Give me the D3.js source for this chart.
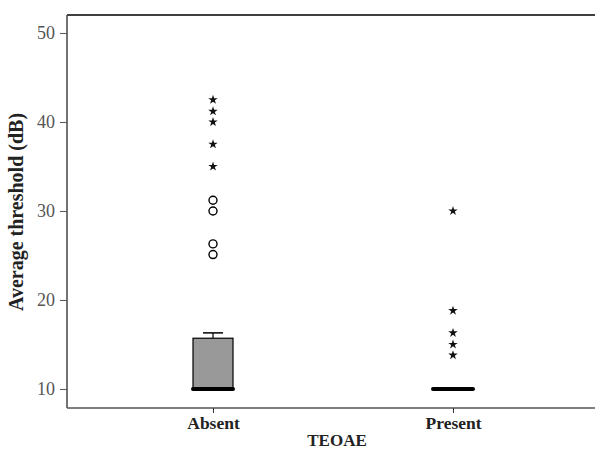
<!DOCTYPE html>
<html>
<head>
<meta charset="utf-8">
<script src="https://cdn.jsdelivr.net/npm/d3@7"></script>
<style>
  body { margin: 0; background: #fff; }
  text { font-family: "Liberation Serif", "Times New Roman", serif; }
</style>
</head>
<body>
<script>
// groups and summary values
const groups = ["Absent", "Present"];
const q1 = [10, 10];
const median = [10, 10];
const q3 = [15.7, 10];
const whiskerLow = [10, 10];
const whiskerHigh = [16.3, 10];
// outliers (circles) and extremes (stars)
const circlesAbsent = [31.2, 30.0, 26.3, 25.1];
const starsAbsent = [42.5, 41.2, 40.0, 37.5, 35.0];
const circlesPresent = [];
const starsPresent = [30.0, 18.8, 16.3, 15.0, 13.8];
const yTicks = [10, 20, 30, 40, 50];

const w = 595, h = 451;
const padL = 67, padR = 595, padT = 15, padB = 408;

const svg = d3.select("body").append("svg")
  .attr("width", w).attr("height", h);

const x = d3.scalePoint().domain(groups).range([padL + 2, padR + 2]).padding(0.6);
const y = d3.scaleLinear().domain([7.86, 52.02]).range([padB, padT]);

// frame: top line
svg.append("line")
  .attr("x1", padL).attr("x2", padR).attr("y1", padT).attr("y2", padT)
  .attr("stroke", "#000").attr("stroke-width", 1.5);

// y axis
const yAxis = svg.append("g")
  .attr("transform", `translate(${padL},0)`)
  .call(d3.axisLeft(y).tickValues(yTicks).tickSize(7).tickPadding(5));
yAxis.select(".domain").attr("stroke", "#444").attr("stroke-width", 1.5)
  .attr("d", `M0,${padT}V${padB}`);
yAxis.selectAll(".tick line").attr("stroke", "#555");
yAxis.selectAll(".tick text").attr("font-size", 18).attr("fill", "#555")
  .style("font-family", "Liberation Serif, serif");

// x axis
const xAxis = svg.append("g")
  .attr("transform", `translate(0,${padB})`)
  .call(d3.axisBottom(x).tickSize(5).tickPadding(4));
xAxis.select(".domain").attr("stroke", "#555").attr("stroke-width", 1.5)
  .attr("d", `M${padL},0H${padR}`);
xAxis.selectAll(".tick line").attr("stroke", "#333");
xAxis.selectAll(".tick text").attr("font-size", 17.5).attr("font-weight", "bold")
  .attr("fill", "#222").style("font-family", "Liberation Serif, serif");

// axis titles
svg.append("text")
  .attr("transform", `translate(23,212) rotate(-90)`)
  .attr("text-anchor", "middle")
  .attr("font-size", 20).attr("font-weight", "bold").attr("fill", "#222")
  .text("Average threshold (dB)");

svg.append("text")
  .attr("x", (x("Absent") + x("Present")) / 2 + 4).attr("y", 446)
  .attr("text-anchor", "middle")
  .attr("font-size", 17).attr("font-weight", "bold").attr("fill", "#222")
  .text("TEOAE");

// boxes
const boxW = 40;
groups.forEach((g, i) => {
  const cx = x(g);
  // whisker
  if (whiskerHigh[i] > q3[i]) {
    svg.append("line").attr("x1", cx).attr("x2", cx)
      .attr("y1", y(q3[i])).attr("y2", y(whiskerHigh[i]))
      .attr("stroke", "#000").attr("stroke-width", 1.2);
    svg.append("line").attr("x1", cx - 10).attr("x2", cx + 10)
      .attr("y1", y(whiskerHigh[i])).attr("y2", y(whiskerHigh[i]))
      .attr("stroke", "#000").attr("stroke-width", 1.5);
  }
  if (q3[i] > q1[i]) {
    svg.append("rect")
      .attr("x", cx - boxW / 2).attr("width", boxW)
      .attr("y", y(q3[i])).attr("height", y(q1[i]) - y(q3[i]))
      .attr("fill", "#999").attr("stroke", "#000").attr("stroke-width", 1.2);
  }
  // median
  svg.append("line").attr("x1", cx - boxW / 2).attr("x2", cx + boxW / 2)
    .attr("y1", y(median[i])).attr("y2", y(median[i]))
    .attr("stroke", "#000").attr("stroke-width", 4).attr("stroke-linecap", "round");
});

// outliers
const circles = [circlesAbsent, circlesPresent];
const stars = [starsAbsent, starsPresent];
groups.forEach((g, i) => {
  svg.selectAll(null).data(circles[i]).enter().append("circle")
    .attr("cx", x(g)).attr("cy", d => y(d)).attr("r", 4)
    .attr("fill", "none").attr("stroke", "#000").attr("stroke-width", 1.4);
  svg.selectAll(null).data(stars[i]).enter().append("path")
    .attr("d", d3.symbol(d3.symbolStar, 28))
    .attr("transform", d => `translate(${x(g)},${y(d)})`)
    .attr("fill", "#111");
});
</script>
</body>
</html>
